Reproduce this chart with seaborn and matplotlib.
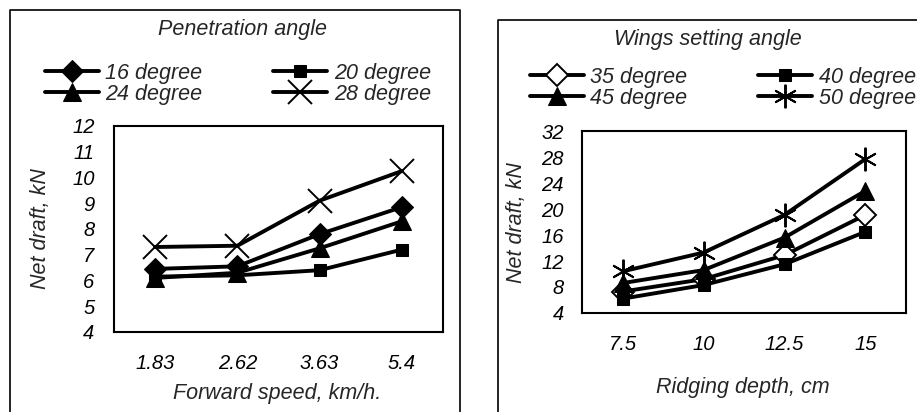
import pandas as pd
import matplotlib
matplotlib.use("Agg")
import matplotlib.pyplot as plt
import seaborn as sns
from matplotlib.lines import Line2D

# Left panel data: penetration angle
speed = ["1.83", "2.62", "3.63", "5.4"]
pen_16 = [6.45, 6.55, 7.8, 8.85]
pen_20 = [6.15, 6.2, 6.4, 7.2]
pen_24 = [6.1, 6.3, 7.25, 8.3]
pen_28 = [7.3, 7.35, 9.1, 10.25]

# Right panel data: wings setting angle
depth = ["7.5", "10", "12.5", "15"]
wing_35 = [7.3, 9.2, 12.9, 19.1]
wing_40 = [6.2, 8.3, 11.5, 16.5]
wing_45 = [8.6, 10.6, 15.6, 22.8]
wing_50 = [10.4, 13.3, 19.1, 27.7]

sns.set_style("white")
plt.rcParams['font.family'] = ['Liberation Sans', 'DejaVu Sans']
plt.rcParams['font.style'] = 'italic'

fig = plt.figure(figsize=(9.17, 4.12), dpi=100)
ax1 = fig.add_axes([0.1243, 0.1942, 0.3588, 0.5])
ax2 = fig.add_axes([0.6347, 0.2403, 0.3533, 0.4417])

lw = 2.8
left_series = [
    ("16 degree", pen_16, dict(marker='D', ms=11, mfc='black')),
    ("20 degree", pen_20, dict(marker='s', ms=8.5, mfc='black')),
    ("24 degree", pen_24, dict(marker='^', ms=13, mfc='black')),
    ("28 degree", pen_28, dict(marker='x', ms=17, mew=1.4)),
]
right_series = [
    ("35 degree", wing_35, dict(marker='D', ms=11, mfc='white', mew=1.4)),
    ("40 degree", wing_40, dict(marker='s', ms=9, mfc='black')),
    ("45 degree", wing_45, dict(marker='^', ms=13, mfc='black')),
    ("50 degree", wing_50, dict(marker=(6, 2, 0), ms=17, mew=1.4)),
]

for ax, xs, series in [(ax1, speed, left_series), (ax2, depth, right_series)]:
    for label, vals, style in series:
        sns.lineplot(x=xs, y=vals, ax=ax, color='black', lw=lw, mec='black',
                     label=label, sort=False, **style)
    ax.get_legend().remove()
    ax.set_xlim(-0.5, 3.5)
    ax.set_xticks(range(4))
    ax.set_xticks([0.5, 1.5, 2.5], minor=True)
    for s in ax.spines.values():
        s.set_visible(True)
        s.set_linewidth(1.5)
        s.set_color('black')
    ax.tick_params(axis='both', which='both', direction='in', length=6, width=1.2,
                   colors='black', labelsize=14.5)
    ax.tick_params(axis='x', pad=16)

ax1.set_ylim(4, 12)
ax1.set_yticks(range(4, 13))
ax1.tick_params(axis='y', pad=14)
ax2.set_ylim(4, 32)
ax2.set_yticks(range(4, 33, 4))
ax2.tick_params(axis='y', pad=13)

ax1.set_xlabel("Forward speed, km/h.", fontsize=15.5)
ax1.set_ylabel("Net draft, kN", fontsize=15.5)
ax1.xaxis.set_label_coords(0.495, -0.248)
ax1.yaxis.set_label_coords(-0.19, 0.5)
ax2.set_xlabel("Ridging depth, cm", fontsize=15.5)
ax2.set_ylabel("Net draft, kN", fontsize=15.5)
ax2.xaxis.set_label_coords(0.497, -0.352)
ax2.yaxis.set_label_coords(-0.17, 0.495)

fig.text(0.264, 0.928, "Penetration angle", ha='center', va='center', fontsize=15.5)
fig.text(0.772, 0.905, "Wings setting angle", ha='center', va='center', fontsize=15.5)

# legends filled row by row: reorder for column-major layout
order = [0, 2, 1, 3]
h1, l1 = ax1.get_legend_handles_labels()
fig.legend([h1[i] for i in order], [l1[i] for i in order], loc='upper left',
           bbox_to_anchor=(0.049, 0.848), ncol=2, frameon=False, fontsize=15.5,
           handlelength=2.5, handletextpad=0.3, columnspacing=3.3,
           labelspacing=0.0, borderpad=0, borderaxespad=0)
h2, l2 = ax2.get_legend_handles_labels()
fig.legend([h2[i] for i in order], [l2[i] for i in order], loc='upper left',
           bbox_to_anchor=(0.578, 0.838), ncol=2, frameon=False, fontsize=15.5,
           handlelength=2.5, handletextpad=0.3, columnspacing=3.3,
           labelspacing=0.0, borderpad=0, borderaxespad=0)

# panel frames
fig.add_artist(Line2D([10/917, 10/917, 460/917, 460/917], [0, 1 - 10/412, 1 - 10/412, 0],
                      transform=fig.transFigure, color='black', lw=1.2))
fig.add_artist(Line2D([498/917, 498/917, 1], [0, 1 - 20/412, 1 - 20/412],
                      transform=fig.transFigure, color='black', lw=1.2))

fig.savefig("out.png", dpi=100)
